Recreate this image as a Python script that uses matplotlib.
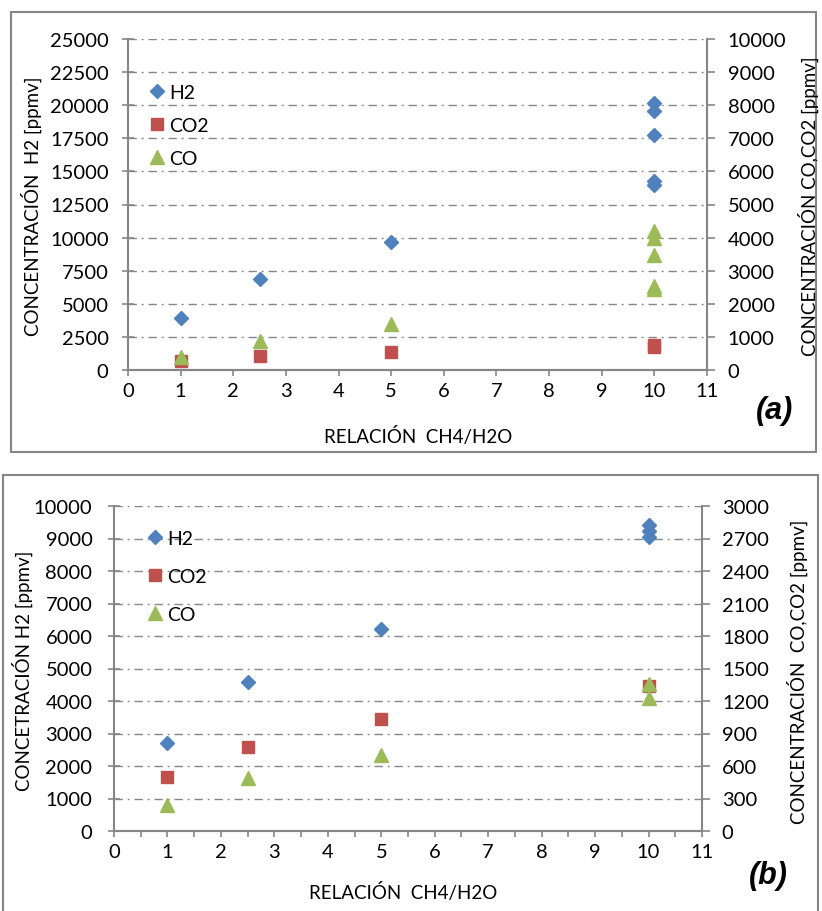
"""
Concentraciones H2, CO2 y CO frente a la relacion CH4/H2O, paneles (a) y (b).
"""
import matplotlib
matplotlib.use("Agg")
import matplotlib.pyplot as plt
from matplotlib.lines import Line2D
from matplotlib.patches import Rectangle


# Data panel (a)
a_h2_x = [1, 2.5, 5, 10, 10, 10, 10, 10]
a_h2 = [3900, 6850, 9700, 20150, 19550, 17750, 14250, 14000]
a_co2_x = [1, 2.5, 5, 10, 10]
a_co2 = [280, 420, 550, 750, 680]
a_co_x = [1, 2.5, 5, 10, 10, 10, 10, 10]
a_co = [390, 880, 1400, 4200, 4000, 3480, 2550, 2450]

# Data panel (b)
b_h2_x = [1, 2.5, 5, 10, 10, 10]
b_h2 = [2720, 4580, 6230, 9420, 9220, 9040]
b_co2_x = [1, 2.5, 5, 10]
b_co2 = [500, 780, 1030, 1340]
b_co_x = [1, 2.5, 5, 10, 10]
b_co = [240, 485, 700, 1360, 1230]

# Settings
W, H = 822, 912
FONT = "Lato"
C_H2 = "#4F81BD"
C_CO2 = "#C0504D"
C_CO = "#9BBB59"
C_AX = "#868686"
GRID_LS = (0, (6, 3.5, 1.4, 3.5))
TICK_FS = 14.5
LAB_FS = 13.5
LEG_FS = 14


# I Helper Functions
def px_axes(fig, left, top, right, bottom):
    """Axes placed by pixel edges"""
    return fig.add_axes([left / W, 1 - bottom / H, (right - left) / W, (bottom - top) / H])


def style_axes(ax, ax2, xminor, lpad, rpad):
    for a in (ax, ax2):
        for s in a.spines.values():
            s.set_visible(False)
        a.spines["bottom"].set_visible(True)
    ax.spines["left"].set_visible(True)
    ax2.spines["right"].set_visible(True)
    for a in (ax, ax2):
        for s in a.spines.values():
            s.set_color(C_AX)
            s.set_linewidth(1.5)
    ax.set_xlim(0, 11)
    ax.set_xticks(range(0, 12))
    if xminor:
        ax.set_xticks([i + 0.5 for i in range(11)], minor=True)
    ax.tick_params(axis="x", which="both", direction="out", length=4.3, width=1.2,
                   color=C_AX, labelsize=TICK_FS, pad=4)
    ax.tick_params(axis="y", direction="inout", length=8, width=1.2, color=C_AX,
                   labelsize=TICK_FS, pad=lpad)
    ax2.tick_params(axis="y", direction="out", length=5.8, width=1.2, color=C_AX,
                    labelsize=TICK_FS, pad=rpad)
    ax.grid(axis="y", color=C_AX, linestyle=GRID_LS, linewidth=1.0)
    ax.set_axisbelow(True)
    for lab in ax.get_xticklabels() + ax.get_yticklabels() + ax2.get_yticklabels():
        lab.set_fontfamily(FONT)


def draw_panel(fig, box, frame, h2, co2, co, ylim, yticks, y2lim, y2ticks, xminor,
               pads, labels, lab_pos, legend_pos, spacing, tag_pos, tag):
    # Frame
    fx0, fy0, fx1, fy1 = frame
    fig.patches.append(Rectangle((fx0 / W, 1 - fy1 / H), (fx1 - fx0) / W, (fy1 - fy0) / H,
                                 transform=fig.transFigure, fill=False,
                                 edgecolor=C_AX, linewidth=1.5))
    ax = px_axes(fig, *box)
    ax2 = ax.twinx()
    ax.plot(h2[0], h2[1], linestyle="none", marker="D", markersize=7.5, color=C_H2,
            clip_on=False)
    ax2.plot(co2[0], co2[1], linestyle="none", marker="s", markersize=9, color=C_CO2,
             clip_on=False)
    ax2.plot(co[0], co[1], linestyle="none", marker="^", markersize=10, color=C_CO,
             clip_on=False)
    ax.set_ylim(*ylim)
    ax.set_yticks(yticks)
    ax2.set_ylim(*y2lim)
    ax2.set_yticks(y2ticks)
    style_axes(ax, ax2, xminor, pads[0], pads[1])

    # Axis titles
    (xl, (xx, xy)), (yl, (yx, yy)), (y2l, (y2x, y2y)) = zip(labels, lab_pos)
    fig.text(xx / W, 1 - xy / H, xl, ha="center", va="center", fontsize=LAB_FS, family=FONT)
    fig.text(yx / W, 1 - yy / H, yl, ha="center", va="center", rotation=90,
             fontsize=LAB_FS, family=FONT)
    fig.text(y2x / W, 1 - y2y / H, y2l, ha="center", va="center", rotation=90,
             fontsize=LAB_FS, family=FONT)

    # Legend
    handles = [Line2D([], [], linestyle="none", marker="D", markersize=7.5, color=C_H2),
               Line2D([], [], linestyle="none", marker="s", markersize=9, color=C_CO2),
               Line2D([], [], linestyle="none", marker="^", markersize=10, color=C_CO)]
    fig.legend(handles, ["H2", "CO2", "CO"], loc="upper left",
               bbox_to_anchor=(legend_pos[0] / W, 1 - legend_pos[1] / H),
               bbox_transform=fig.transFigure, frameon=False, borderpad=0,
               borderaxespad=0, handlelength=0.95, handletextpad=0.15,
               labelspacing=spacing, prop={"family": FONT, "size": LEG_FS})

    fig.text(tag_pos[0] / W, 1 - tag_pos[1] / H, tag, ha="center", va="center",
             fontsize=22, family="Liberation Sans", weight="bold", style="italic")


# II Main Functions
def dev():
    fig = plt.figure(figsize=(W / 100, H / 100), dpi=100)

    draw_panel(fig, box=(128, 40, 707, 371), frame=(11, 13, 816, 453),
               h2=(a_h2_x, a_h2), co2=(a_co2_x, a_co2), co=(a_co_x, a_co),
               ylim=(0, 25000), yticks=range(0, 25001, 2500),
               y2lim=(0, 10000), y2ticks=range(0, 10001, 1000), xminor=False,
               pads=(10, 9),
               labels=("RELACIÓN  CH4/H2O", "CONCENTRACIÓN  H2 [ppmv]",
                       "CONCENTRACIÓN CO,CO2 [ppmv]"),
               lab_pos=((418, 437), (31, 206), (808, 206)),
               legend_pos=(148, 85), spacing=0.83, tag_pos=(775, 411), tag="(a)")

    draw_panel(fig, box=(114, 507, 702, 832), frame=(3, 476, 818, 930),
               h2=(b_h2_x, b_h2), co2=(b_co2_x, b_co2), co=(b_co_x, b_co),
               ylim=(0, 10000), yticks=range(0, 10001, 1000),
               y2lim=(0, 3000), y2ticks=range(0, 3001, 300), xminor=True,
               pads=(11.5, 8.5),
               labels=("RELACIÓN  CH4/H2O", "CONCETRACIÓN H2 [ppmv]",
                       "CONCENTRACIÓN  CO,CO2 [ppmv]"),
               lab_pos=((403, 893), (22, 671), (797, 672)),
               legend_pos=(146, 531), spacing=1.07, tag_pos=(768, 876), tag="(b)")

    plt.savefig("out.png", dpi=100)
    plt.close()


# IV Main
def main():
    dev()


if __name__ == "__main__":
    main()
